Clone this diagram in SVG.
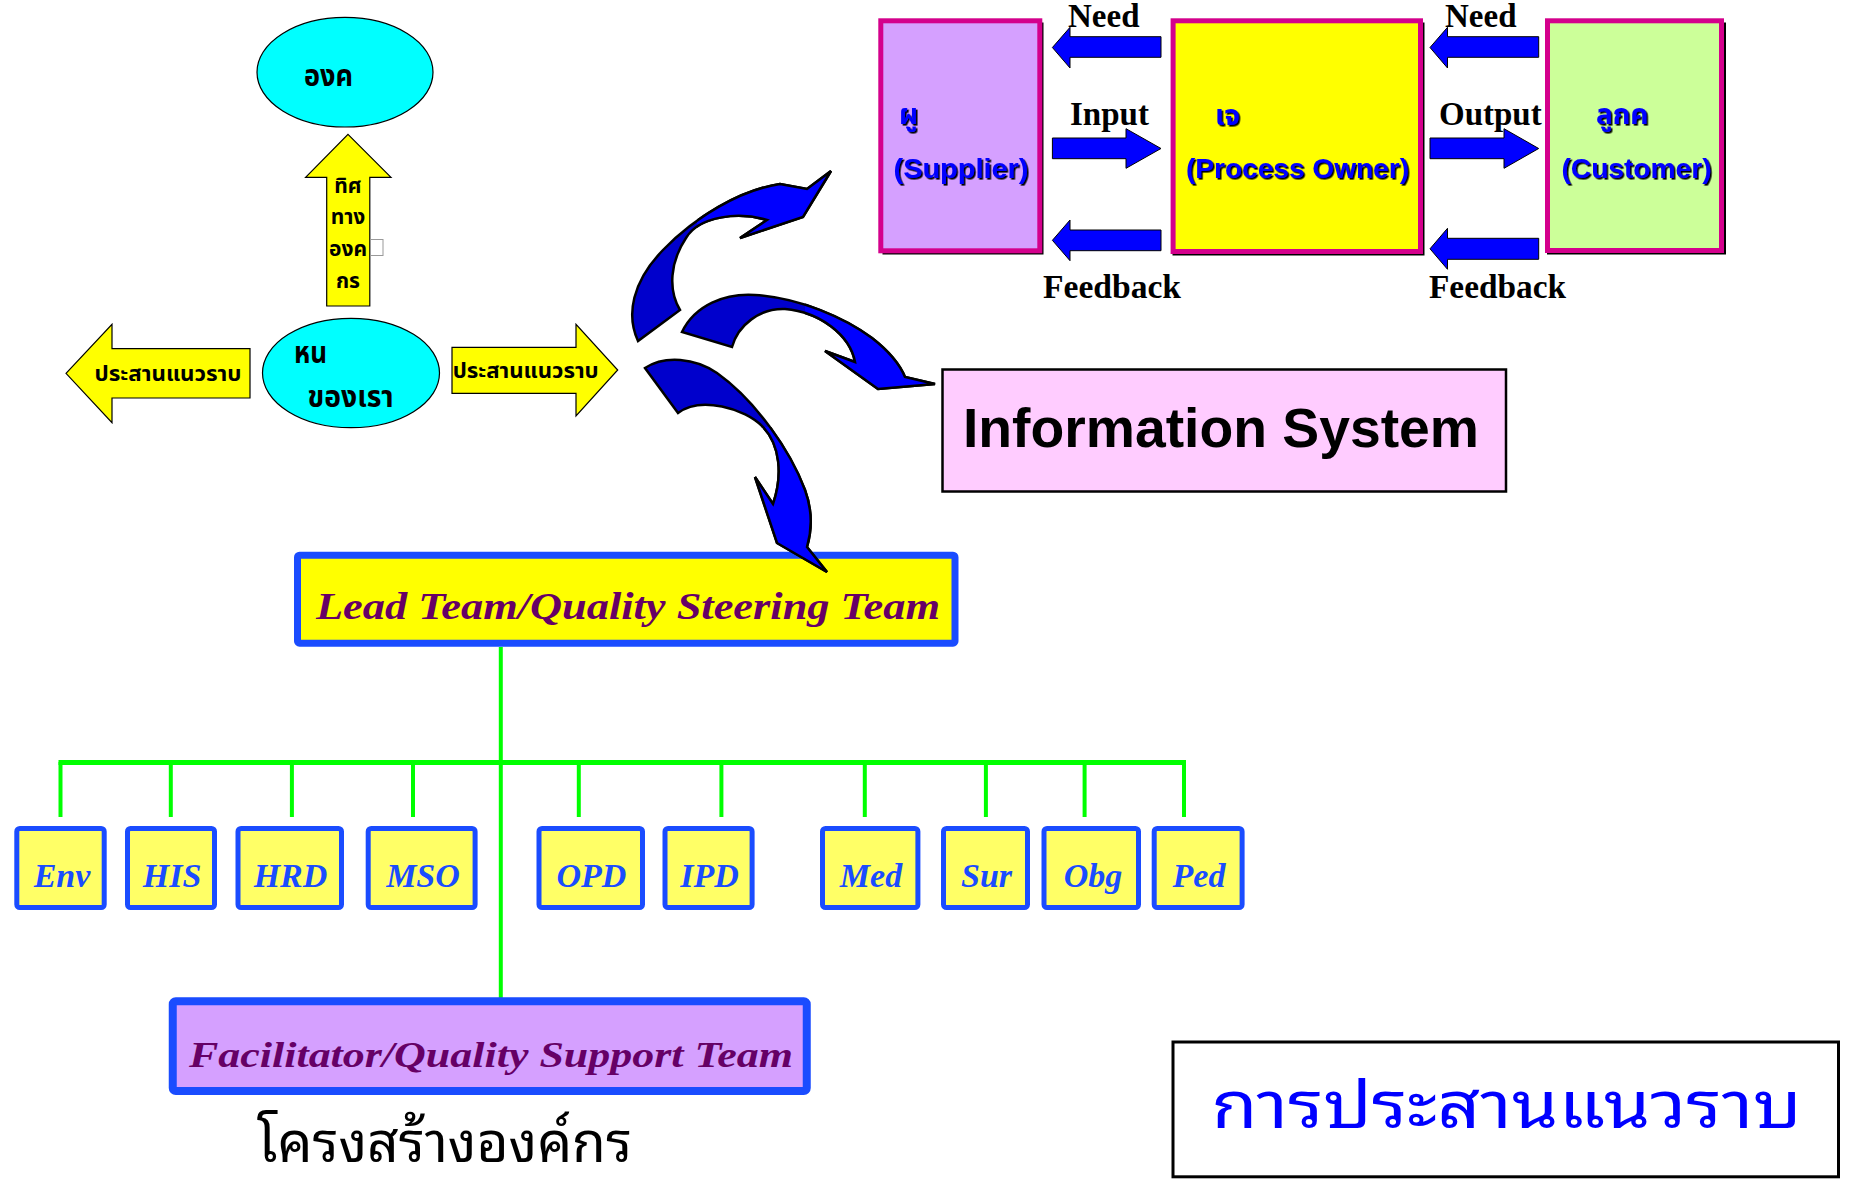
<svg xmlns="http://www.w3.org/2000/svg" width="1864" height="1182" viewBox="0 0 1864 1182">
<defs>
<style>
.thb{font-family:"Noto Sans Thai","Noto Sans Thai Looped","Noto Sans","DejaVu Sans",sans-serif;font-weight:bold;fill:#000}
.thr{font-family:"Noto Sans Thai Looped","Noto Sans Thai","Noto Sans","DejaVu Sans",sans-serif;font-weight:normal}
.tnr{font-family:"Liberation Serif","Times New Roman",serif;font-weight:bold;font-size:33px;fill:#000}
.sh{font-family:"Liberation Sans",Arial,"Noto Sans Thai",sans-serif;font-weight:bold;fill:#0000FF;filter:url(#shadow)}
.ell{fill:#00FFFF;stroke:#000;stroke-width:1.2}
.yarr{fill:#FFFF00;stroke:#000;stroke-width:1.2}
.barr{fill:#0000FF;stroke:#000;stroke-width:1}
.sipoc{stroke:#D4008C;stroke-width:5}
.sbox{fill:#FFFF66;stroke:#1A4CFF;stroke-width:5}
.slbl{font-family:"Liberation Serif","Times New Roman",serif;font-weight:bold;font-style:italic;font-size:34px;fill:#1A4CFF;text-anchor:middle}
.team{font-family:"Liberation Serif","Times New Roman",serif;font-weight:bold;font-style:italic;fill:#660066}
.gl{stroke:#00FF00;stroke-width:4;fill:none}
.carr{stroke:#000;stroke-width:2.5;stroke-linejoin:miter}
</style>
<filter id="shadow" x="-5%" y="-10%" width="115%" height="130%">
<feDropShadow dx="1.6" dy="1.6" stdDeviation="0" flood-color="#000"/>
</filter>
<clipPath id="c1"><rect x="697" y="150" width="200" height="120"/></clipPath>
<clipPath id="c2"><rect x="805" y="280" width="160" height="130"/></clipPath>
<clipPath id="c3"><rect x="640" y="427" width="220" height="160"/></clipPath>
<path id="a1" d="M638,341 C626,315 632,282 663,250 C695,217 740,190 780,184 L807,189 L831,171 L803,217 L740,238 L767,220 C740,212 700,215 686,238 C670,262 668,290 680,310 Z"/>
<path id="a2" d="M682,332 C695,305 725,293 755,295 C800,298 845,318 872,338 C890,352 900,365 905,377 L935,384 L878,389 L825,351 L855,362 C850,335 820,312 785,309 C760,308 738,325 732,347 Z"/>
<path id="a3" d="M645,368 C665,355 695,358 717,373 C755,400 790,450 805,490 C813,512 812,530 807,547 L827,572 L777,543 L755,477 L773,504 C783,475 780,445 763,427 C745,408 700,396 678,413 Z"/>
</defs>
<rect width="1864" height="1182" fill="#fff"/>

<g id="connectors">
<g id="org-lines">
<line class="gl" x1="500.8" y1="647" x2="500.8" y2="998"/>
<line class="gl" x1="58.5" y1="762.5" x2="1186" y2="762.5" style="stroke-width:5"/>
<line class="gl" x1="60.5" y1="762" x2="60.5" y2="817"/>
<line class="gl" x1="170.8" y1="762" x2="170.8" y2="817"/>
<line class="gl" x1="291.9" y1="762" x2="291.9" y2="817"/>
<line class="gl" x1="413" y1="762" x2="413" y2="817"/>
<line class="gl" x1="578.8" y1="762" x2="578.8" y2="817"/>
<line class="gl" x1="721.4" y1="762" x2="721.4" y2="817"/>
<line class="gl" x1="864.8" y1="762" x2="864.8" y2="817"/>
<line class="gl" x1="985.9" y1="762" x2="985.9" y2="817"/>
<line class="gl" x1="1084.6" y1="762" x2="1084.6" y2="817"/>
<line class="gl" x1="1184" y1="762" x2="1184" y2="817"/>
</g>
</g>

<g id="node-org">
<ellipse class="ell" cx="345" cy="72.2" rx="88" ry="54.8"/>
<text class="thb" x="304" y="86" font-size="30" textLength="49" lengthAdjust="spacingAndGlyphs">องค</text>
</g>

<g id="node-direction">
<polygon class="yarr" points="348,134.3 391,177.3 369.8,177.3 369.8,306 326.7,306 326.7,177.3 305.6,177.3"/>
<text class="thb" x="348" y="192.7" font-size="21" text-anchor="middle">ทิศ</text>
<text class="thb" x="348" y="224.3" font-size="21" text-anchor="middle">ทาง</text>
<text class="thb" x="348" y="256" font-size="21" text-anchor="middle">องค</text>
<rect x="370.5" y="239.5" width="12.5" height="16" fill="none" stroke="#999" stroke-width="1"/>
<text class="thb" x="348" y="287.7" font-size="21" text-anchor="middle">กร</text>
</g>

<g id="node-unit">
<ellipse class="ell" cx="351" cy="373" rx="88.5" ry="54.7"/>
<text class="thb" x="294" y="363.3" font-size="30" textLength="33" lengthAdjust="spacingAndGlyphs">หน</text>
<text class="thb" x="307.6" y="407.3" font-size="30" textLength="86" lengthAdjust="spacingAndGlyphs">ของเรา</text>
</g>

<g id="node-left-arrow">
<polygon class="yarr" points="66,373.3 112,324.3 112,348.7 250,348.7 250,398 112,398 112,422.7"/>
<text class="thb" x="94.5" y="380.7" font-size="22" textLength="147" lengthAdjust="spacingAndGlyphs">ประสานแนวราบ</text>
</g>

<g id="node-right-arrow">
<polygon class="yarr" points="452,347.3 576,347.3 576,324.3 617.7,370 576,416 576,393.3 452,393.3"/>
<text class="thb" x="452.7" y="378.3" font-size="22" textLength="146" lengthAdjust="spacingAndGlyphs">ประสานแนวราบ</text>
</g>

<g id="node-supplier">
<rect x="882.5" y="22.5" width="161" height="232" fill="#000"/>
<rect class="sipoc" x="880.8" y="20.8" width="159" height="230" fill="#D5A0FF"/>
<text class="sh" x="899" y="124" font-size="28">ผู</text>
<text class="sh" x="961" y="178" font-size="28" text-anchor="middle" textLength="135" lengthAdjust="spacingAndGlyphs">(Supplier)</text>
</g>

<g id="node-process-owner">
<rect x="1172.5" y="22.5" width="252" height="233" fill="#000"/>
<rect class="sipoc" x="1173.1" y="20.8" width="247.4" height="230.7" fill="#FFFF00"/>
<text class="sh" x="1215" y="125" font-size="28">เจ</text>
<text class="sh" x="1297.5" y="178" font-size="28" text-anchor="middle" textLength="223" lengthAdjust="spacingAndGlyphs">(Process Owner)</text>
</g>

<g id="node-customer">
<rect x="1547" y="22.5" width="179" height="232" fill="#000"/>
<rect class="sipoc" x="1547.5" y="20.8" width="174" height="229.7" fill="#CCFF99"/>
<text class="sh" x="1596" y="124" font-size="28">ลูกค</text>
<text class="sh" x="1636.5" y="178" font-size="28" text-anchor="middle" textLength="150" lengthAdjust="spacingAndGlyphs">(Customer)</text>
</g>

<g id="sipoc-flows">
<polygon class="barr" points="1052.4,47.5 1070,27.3 1070,36.7 1161,36.7 1161,57.3 1070,57.3 1070,68"/>
<polygon class="barr" points="1430,47.5 1447.5,27.3 1447.5,36.7 1538.7,36.7 1538.7,57.3 1447.5,57.3 1447.5,68"/>
<polygon class="barr" points="1052.4,138 1126,138 1126,128.7 1161,148.5 1126,168.3 1126,158.7 1052.4,158.7"/>
<polygon class="barr" points="1430,138 1504,138 1504,128.7 1538.7,148.5 1504,168.3 1504,158.7 1430,158.7"/>
<polygon class="barr" points="1052.4,240.3 1070,220 1070,230 1161,230 1161,250.7 1070,250.7 1070,260.7"/>
<polygon class="barr" points="1430,248.8 1447.5,228.3 1447.5,238.3 1538.7,238.3 1538.7,259.3 1447.5,259.3 1447.5,269.3"/>
<text class="tnr" x="1068" y="26.5">Need</text>
<text class="tnr" x="1445" y="26.5">Need</text>
<text class="tnr" x="1070" y="125">Input</text>
<text class="tnr" x="1439" y="125">Output</text>
<text class="tnr" x="1043" y="298" textLength="138" lengthAdjust="spacingAndGlyphs">Feedback</text>
<text class="tnr" x="1429" y="298" textLength="137" lengthAdjust="spacingAndGlyphs">Feedback</text>
</g>

<g id="node-information-system">
<rect x="942.5" y="369.5" width="563.5" height="122" fill="#FFCCFF" stroke="#000" stroke-width="2.5"/>
<text x="963" y="446.7" font-family="Liberation Sans, Arial, sans-serif" font-weight="bold" font-size="56" textLength="516" lengthAdjust="spacingAndGlyphs">Information System</text>
</g>

<g id="node-lead-team">
<rect x="297.5" y="555.2" width="657.5" height="88" rx="2" fill="#FFFF00" stroke="#1A4CFF" stroke-width="7"/>
<text class="team" x="316" y="619" font-size="38" textLength="624" lengthAdjust="spacingAndGlyphs">Lead Team/Quality Steering Team</text>
</g>

<g id="node-env"><rect class="sbox" x="16.8" y="828.5" width="87.4" height="79" rx="3"/><text class="slbl" x="62" y="886.7">Env</text></g>
<g id="node-his"><rect class="sbox" x="127.5" y="828.5" width="87" height="79" rx="3"/><text class="slbl" x="172" y="886.7">HIS</text></g>
<g id="node-hrd"><rect class="sbox" x="238" y="828.5" width="103.5" height="79" rx="3"/><text class="slbl" x="290.5" y="886.7">HRD</text></g>
<g id="node-mso"><rect class="sbox" x="368.2" y="828.5" width="106.9" height="79" rx="3"/><text class="slbl" x="423" y="886.7">MSO</text></g>
<g id="node-opd"><rect class="sbox" x="539" y="828.5" width="103.5" height="79" rx="3"/><text class="slbl" x="591.5" y="886.7">OPD</text></g>
<g id="node-ipd"><rect class="sbox" x="665" y="828.5" width="87.1" height="79" rx="3"/><text class="slbl" x="709.5" y="886.7">IPD</text></g>
<g id="node-med"><rect class="sbox" x="822.5" y="828.5" width="95.4" height="79" rx="3"/><text class="slbl" x="871" y="886.7">Med</text></g>
<g id="node-sur"><rect class="sbox" x="943.5" y="828.5" width="84" height="79" rx="3"/><text class="slbl" x="986.5" y="886.7">Sur</text></g>
<g id="node-obg"><rect class="sbox" x="1044" y="828.5" width="94.5" height="79" rx="3"/><text class="slbl" x="1093" y="886.7">Obg</text></g>
<g id="node-ped"><rect class="sbox" x="1154.2" y="828.5" width="87.9" height="79" rx="3"/><text class="slbl" x="1199" y="886.7">Ped</text></g>

<g id="node-facilitator">
<rect x="172.75" y="1001.3" width="634" height="89.7" rx="3" fill="#D5A0FF" stroke="#1A4CFF" stroke-width="8"/>
<text class="team" x="189" y="1067.3" font-size="36" textLength="604" lengthAdjust="spacingAndGlyphs">Facilitator/Quality Support Team</text>
</g>

<g id="caption-structure">
<text class="thr" x="257" y="1161.7" font-size="57" fill="#000" textLength="375" lengthAdjust="spacingAndGlyphs">โครงสร้างองค์กร</text>
</g>

<g id="node-title">
<rect x="1173" y="1042" width="665.5" height="134.8" fill="#fff" stroke="#000" stroke-width="3"/>
<text class="thr" x="1211.5" y="1128.3" font-size="66" font-weight="bold" fill="#0000FF" textLength="590" lengthAdjust="spacingAndGlyphs">การประสานแนวราบ</text>
</g>

<g id="curved-arrows">
<use href="#a1" fill="#0000CC" class="carr"/>
<use href="#a1" fill="#0000FF" class="carr" clip-path="url(#c1)"/>
<use href="#a2" fill="#0000CC" class="carr"/>
<use href="#a2" fill="#0000FF" class="carr" clip-path="url(#c2)"/>
<use href="#a3" fill="#0000CC" class="carr"/>
<use href="#a3" fill="#0000FF" class="carr" clip-path="url(#c3)"/>
</g>
</svg>
